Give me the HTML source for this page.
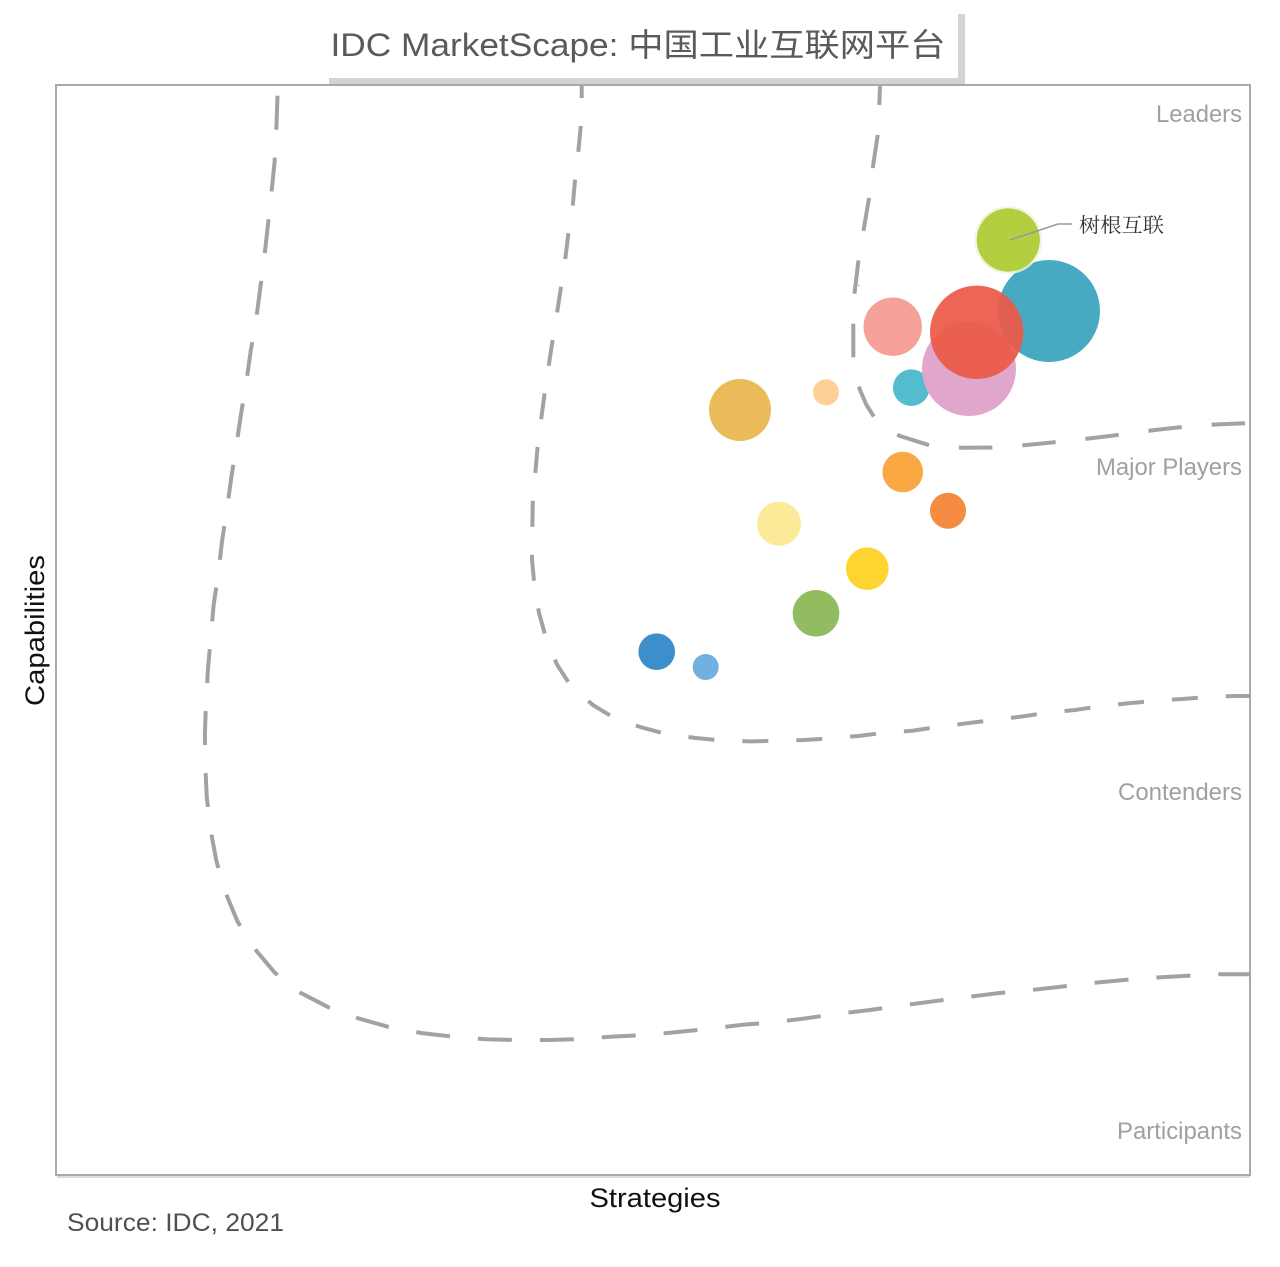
<!DOCTYPE html>
<html>
<head>
<meta charset="utf-8">
<style>
  html,body{margin:0;padding:0;background:#fff;}
  svg{display:block;}
</style>
</head>
<body>
<svg width="1280" height="1267" viewBox="0 0 1280 1267" xmlns="http://www.w3.org/2000/svg">
  <rect x="0" y="0" width="1280" height="1267" fill="#ffffff"/>

  <!-- plot frame -->
  <rect x="56" y="85" width="1194" height="1090" fill="none" stroke="#a9a9a9" stroke-width="2"/>
  <line x1="57" y1="1177" x2="1250" y2="1177" stroke="#dcdcdc" stroke-width="2"/>

  <!-- dashed curves -->
  <g fill="none" stroke="#a2a2a2" stroke-width="4" stroke-linejoin="round">
    <path stroke-dasharray="34 28" d="M277.5,95.7 L276.3,130 L274.7,160.7 L271.3,194.3 L268,224.3 L264.3,257.7 L260.3,287.7 L256,320.7 L250.7,351 L246,384.3 L241,414.3 L236,447.7 L231.3,477.7 L226.7,511 L222.1,540.7 L218.3,573.4 L213.7,604.4 L210.6,638.8 L208,668.8 L206,702.5 L204.9,733.5 L205.3,766.2 L206.8,797.2 L210.6,830 L216.4,861 L225.2,891.9 L237.4,921.2 L254.6,948.7 L274.9,972.8 L300.6,992.8 L328.5,1007.3 L359.1,1018.6 L388.6,1026.9 L421.9,1033.1 L451.7,1036.5 L486.2,1039.3 L516,1040 L550.4,1040 L579.9,1039 L614.4,1036.5 L643.8,1035.2 L677.5,1032 L708.1,1029 L741.8,1024.8 L771.7,1022.5 L806,1018.3 L834,1014.3 L870,1010 L897.7,1006 L933.3,1001.3 L961.7,997.7 L996.7,993.3 L1025,990.7 L1060.7,986.7 L1089,983.3 L1124.3,980 L1152.7,977.7 L1188.3,975.7 L1216.7,974.3 L1250,974.3"/>
    <path stroke-dasharray="26 28" stroke-dashoffset="14" d="M581.7,86 L581.7,98.3 L580.7,126.7 L578.3,151.7 L575,180 L572.7,206.7 L568.3,234.3 L565,261 L560.7,289 L556.7,315 L552.3,342.3 L548.3,368.3 L544.3,396 L540.7,422.3 L537.3,450 L535,476.7 L532.7,504.3 L532.3,530 L532,559.6 L534.4,585.4 L539,613 L546.2,638.8 L557,664.6 L571.5,687 L593.3,705.3 L615.5,718.7 L642.3,727.6 L667.2,734.2 L695.9,738 L721.5,740.4 L750.2,741.4 L777,740.8 L804.3,740 L830.7,738.3 L858.3,736 L885,732.7 L912.7,730.7 L939.3,726.7 L966.7,723.3 L993.3,720 L1020.7,716.7 L1047.3,712.7 L1075,710 L1101.7,706 L1128.3,703.3 L1155.7,700.7 L1182.7,699 L1210,696.7 L1237.3,696 L1250,696"/>
    <path stroke-dasharray="33.5 30" stroke-dashoffset="14.5" d="M880,86 L879.3,105 L877.7,135 L872.7,168.3 L869,198.3 L863.3,231.7 L858.3,261.7 L854.3,295 L853.3,325 L853.3,358.3 L855.5,375 L860,390 L866.5,405 L875,418.3 L886,428 L900,436 L931.7,446 L962.7,447.7 L995,447.5 L1026.7,445 L1060,441.7 L1090.7,438.3 L1123.3,434.3 L1155,430 L1180,427.3 L1215,424.5 L1250,423"/>
  </g>
  <line x1="857" y1="285" x2="860" y2="286" stroke="#bbbbbb" stroke-width="1"/>

  <!-- bubbles -->
  <circle cx="740" cy="410" r="31" fill="#eabb59"/>
  <circle cx="826" cy="392.3" r="13" fill="#fdd09a"/>
  <circle cx="892.7" cy="326.7" r="29.2" fill="#f5a197"/>
  <circle cx="911.3" cy="387.7" r="18.3" fill="#53bdcf"/>
  <circle cx="1049" cy="311" r="51" fill="#48aac2"/>
  <circle cx="969" cy="369" r="47" fill="#e0a6cc"/>
  <circle cx="976.7" cy="332.3" r="46.7" fill="#ec5947" fill-opacity="0.93"/>
  <circle cx="1008.3" cy="240" r="34" fill="#eef4dc" fill-opacity="0.85"/>
  <circle cx="1008.3" cy="240" r="31.6" fill="#b1cf3f"/>
  <circle cx="902.7" cy="472" r="20.3" fill="#f9a843"/>
  <circle cx="948" cy="510.7" r="18" fill="#f48c42"/>
  <circle cx="779" cy="523.7" r="22" fill="#fcea98"/>
  <circle cx="867.3" cy="568.7" r="21.3" fill="#fed530"/>
  <circle cx="816" cy="613.3" r="23.3" fill="#92bc60"/>
  <circle cx="656.7" cy="651.7" r="18.3" fill="#3c8fca"/>
  <circle cx="705.7" cy="667" r="13" fill="#72b0df"/>

  <!-- callout -->
  <polyline points="1010,240 1058,224 1072,224" fill="none" stroke="#9a9a9a" stroke-width="1.6"/>
  <text x="1079" y="232" font-family="'Noto Serif CJK SC','Noto Sans CJK SC',serif" font-size="20" fill="#333333" textLength="85" lengthAdjust="spacingAndGlyphs">树根互联</text>

  <!-- quadrant labels -->
  <g font-family="'Liberation Sans',Arial,sans-serif" font-size="24" fill="#a0a0a0" text-anchor="end">
    <text x="1242" y="122" textLength="86" lengthAdjust="spacingAndGlyphs">Leaders</text>
    <text x="1242" y="475" textLength="146" lengthAdjust="spacingAndGlyphs">Major Players</text>
    <text x="1242" y="800" textLength="124" lengthAdjust="spacingAndGlyphs">Contenders</text>
    <text x="1242" y="1139" textLength="125" lengthAdjust="spacingAndGlyphs">Participants</text>
  </g>

  <!-- axis labels -->
  <text transform="translate(44,630.5) rotate(-90)" text-anchor="middle" font-family="'Liberation Sans',Arial,sans-serif" font-size="27" fill="#111111" textLength="151" lengthAdjust="spacingAndGlyphs">Capabilities</text>
  <text x="655" y="1207" text-anchor="middle" font-family="'Liberation Sans',Arial,sans-serif" font-size="27" fill="#111111" textLength="131" lengthAdjust="spacingAndGlyphs">Strategies</text>
  <text x="67" y="1231" font-family="'Liberation Sans',Arial,sans-serif" font-size="25" fill="#505050" textLength="217" lengthAdjust="spacingAndGlyphs">Source: IDC, 2021</text>

  <!-- title box -->
  <rect x="329" y="14" width="636" height="70" fill="#d3d3d3"/>
  <rect x="327" y="8" width="631" height="70" fill="#ffffff"/>
  <text x="330.5" y="56" font-family="'Liberation Sans','Noto Sans CJK SC',sans-serif" font-size="32" fill="#5a5a5a" textLength="615" lengthAdjust="spacingAndGlyphs">IDC MarketScape:  中国工业互联网平台</text>
</svg>
</body>
</html>
